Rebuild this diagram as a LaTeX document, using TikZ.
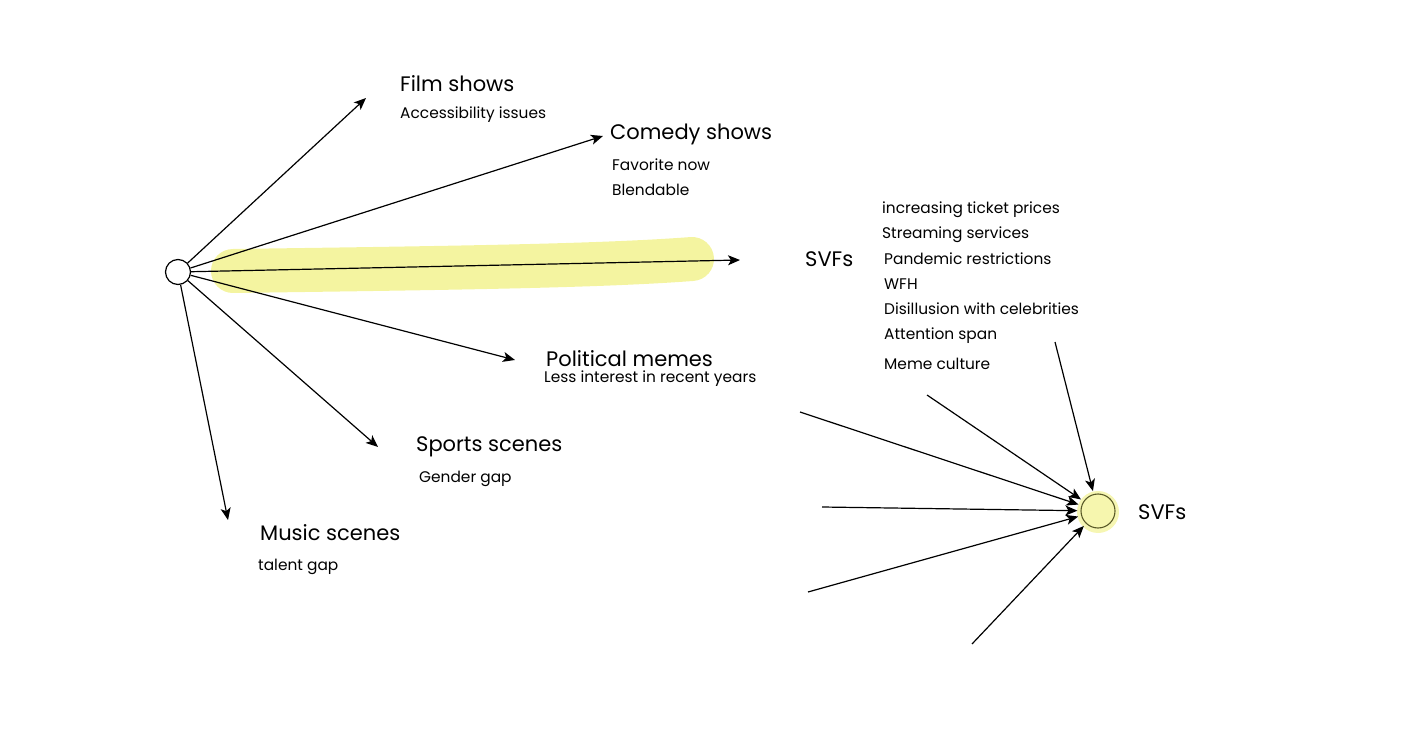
\documentclass[tikz,border=0pt]{standalone}
\usepackage{fontspec}
\setmainfont{Poppins}
\usetikzlibrary{arrows.meta}
\definecolor{hl}{RGB}{244,244,160}
\definecolor{ring}{RGB}{90,90,40}
\tikzset{
  conn/.style={line width=1.2pt, -{Stealth[length=12pt,width=10pt,inset=3pt]}},
  big/.style={anchor=west, inner sep=0pt, font=\fontsize{21}{24}\selectfont},
  small/.style={anchor=west, inner sep=0pt, font=\fontsize{15.4}{18}\selectfont},
}
\begin{document}
\begin{tikzpicture}[x=1pt,y=-1pt]
\useasboundingbox (0,0) rectangle (1425,746);
% highlight band
\draw[hl, line width=44pt, line cap=round] (233,271) .. controls (450,268) and (600,266) .. (692,259);
% hub
\node[circle, draw, line width=1.2pt, fill=white, minimum size=25pt, inner sep=0pt] (c) at (178,272) {};
% free ends
\coordinate (tFilm) at (366,98);
\coordinate (tComedy) at (603,136);
\coordinate (tSVF) at (740,260);
\coordinate (tPol) at (515,360);
\coordinate (tSport) at (378,447);
\coordinate (tMusic) at (228,520);
\foreach \t in {tFilm,tComedy,tSVF,tPol,tSport,tMusic}
  \draw[conn] (c) -- (\t);
% labels
\node[big] (film) at (400,84) {Film shows};
\node[small] (filmA) at (400,115) {Accessibility issues};
\node[big] (comedy) at (610,134) {Comedy shows};
\node[small] (comedyA) at (612,165) {Favorite now};
\node[small] (comedyB) at (612,190) {Blendable};
\node[big] (svf1) at (805,259) {SVFs};
\node[small] (l1) at (882,210) {increasing ticket prices};
\node[small] (l2) at (882,235) {Streaming services};
\node[small] (l3) at (884,259) {Pandemic restrictions};
\node[small] (l4) at (884,284) {WFH};
\node[small] (l5) at (884,309) {Disillusion with celebrities};
\node[small] (l6) at (884,336) {Attention span};
\node[small] (l7) at (884,364) {Meme culture};
\node[big] (pol) at (546,359) {Political memes};
\node[small] (polA) at (544,379) {Less interest in recent years};
\node[big] (sport) at (416,447) {Sports scenes};
\node[small] (sportA) at (419,479) {Gender gap};
\node[big] (music) at (260,533) {Music scenes};
\node[small] (musicA) at (258,567) {talent gap};
% right hub with glow
\fill[hl, opacity=0.8] (1098,512) circle (21);
\node[circle, draw=ring, line width=1.1pt, fill=hl!85, minimum size=34pt, inner sep=0pt] (s) at (1098,511) {};
\node[big] (svf2) at (1138,512) {SVFs};
\coordinate (f1) at (1055,342);
\coordinate (f2) at (927,395);
\coordinate (f3) at (800,412);
\coordinate (f4) at (822,507);
\coordinate (f5) at (808,592);
\coordinate (f6) at (972,644);
\foreach \f in {f1,f2,f3,f4,f5,f6}
  \draw[conn, shorten >=3pt] (\f) -- (s);
\end{tikzpicture}
\end{document}
